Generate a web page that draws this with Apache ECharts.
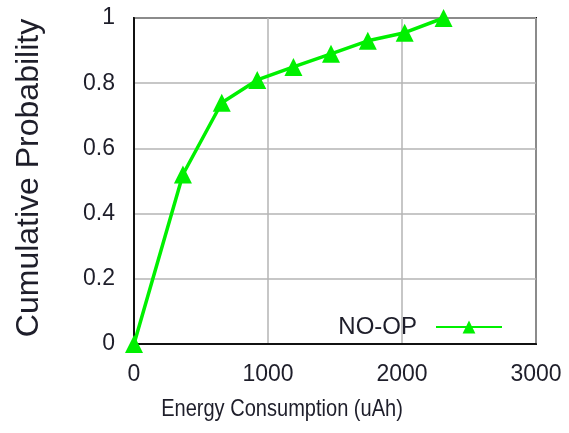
<!DOCTYPE html>
<html>
<head>
<meta charset="utf-8">
<script src="https://cdn.jsdelivr.net/npm/echarts@6/dist/echarts.min.js"></script>
<style>html,body{margin:0;padding:0;background:#fff;}#c{width:569px;height:433px;}</style>
</head>
<body>
<div id="c"></div>
<script>
var energy = [0, 365, 655, 920, 1190, 1470, 1745, 2020, 2310];
var cumProb = [0, 0.52, 0.74, 0.81, 0.85, 0.89, 0.93, 0.955, 1.0];
var seriesName = 'NO-OP';
var xTicks = [0, 1000, 2000, 3000];
var yTicks = [0, 0.2, 0.4, 0.6, 0.8, 1];
var xTitle = 'Energy Consumption (uAh)';
var yTitle = 'Cumulative Probability';

var chart = echarts.init(document.getElementById('c'), null, {renderer: 'canvas'});
var txt = '#1e1e2a';
var font = 'Liberation Sans, Arial, Helvetica, sans-serif';
chart.setOption({
  animation: false,
  backgroundColor: '#fff',
  grid: {left: 134, right: 33, top: 18, bottom: 89, show: true, borderColor: '#111', borderWidth: 2, backgroundColor: 'transparent'},
  xAxis: {
    type: 'value', min: xTicks[0], max: xTicks[xTicks.length - 1], interval: 1000,
    axisLine: {show: true, lineStyle: {color: '#111', width: 2}},
    axisTick: {show: false},
    splitLine: {show: true, lineStyle: {color: '#b4b4b4', width: 1.5}},
    axisLabel: {color: txt, fontSize: 23, fontFamily: font, margin: 19,
      formatter: function (v) { return String(v); }}
  },
  yAxis: {
    type: 'value', min: yTicks[0], max: yTicks[yTicks.length - 1], interval: 0.2,
    axisLine: {show: true, lineStyle: {color: '#111', width: 2}},
    axisTick: {show: false},
    splitLine: {show: true, lineStyle: {color: '#b4b4b4', width: 1.5}},
    axisLabel: {color: txt, fontSize: 23, fontFamily: font, margin: 19,
      formatter: function (v) { return String(Math.round(v * 10) / 10); }}
  },
  legend: {
    data: [seriesName], right: 61, top: 310, align: 'right',
    itemWidth: 66, itemHeight: 16, itemGap: 0,
    textStyle: {color: txt, fontSize: 24, fontFamily: font, padding: [0, 14, 0, 0]}
  },
  graphic: [
    {type: 'text', x: 282, y: 409, scaleX: 0.835, style: {text: xTitle, fill: txt, font: '24px ' + font, textAlign: 'center', textVerticalAlign: 'middle'}},
    {type: 'text', x: 29, y: 178, rotation: Math.PI / 2, style: {text: yTitle, fill: txt, font: '32px ' + font, textAlign: 'center', textVerticalAlign: 'middle'}}
  ],
  series: [{
    name: seriesName, type: 'line', clip: false,
    data: energy.map(function (e, i) { return [e, cumProb[i]]; }),
    symbol: 'triangle', symbolSize: 18,
    lineStyle: {color: '#00f000', width: 3.5},
    itemStyle: {color: '#00f000'}
  }]
});
</script>
</body>
</html>
